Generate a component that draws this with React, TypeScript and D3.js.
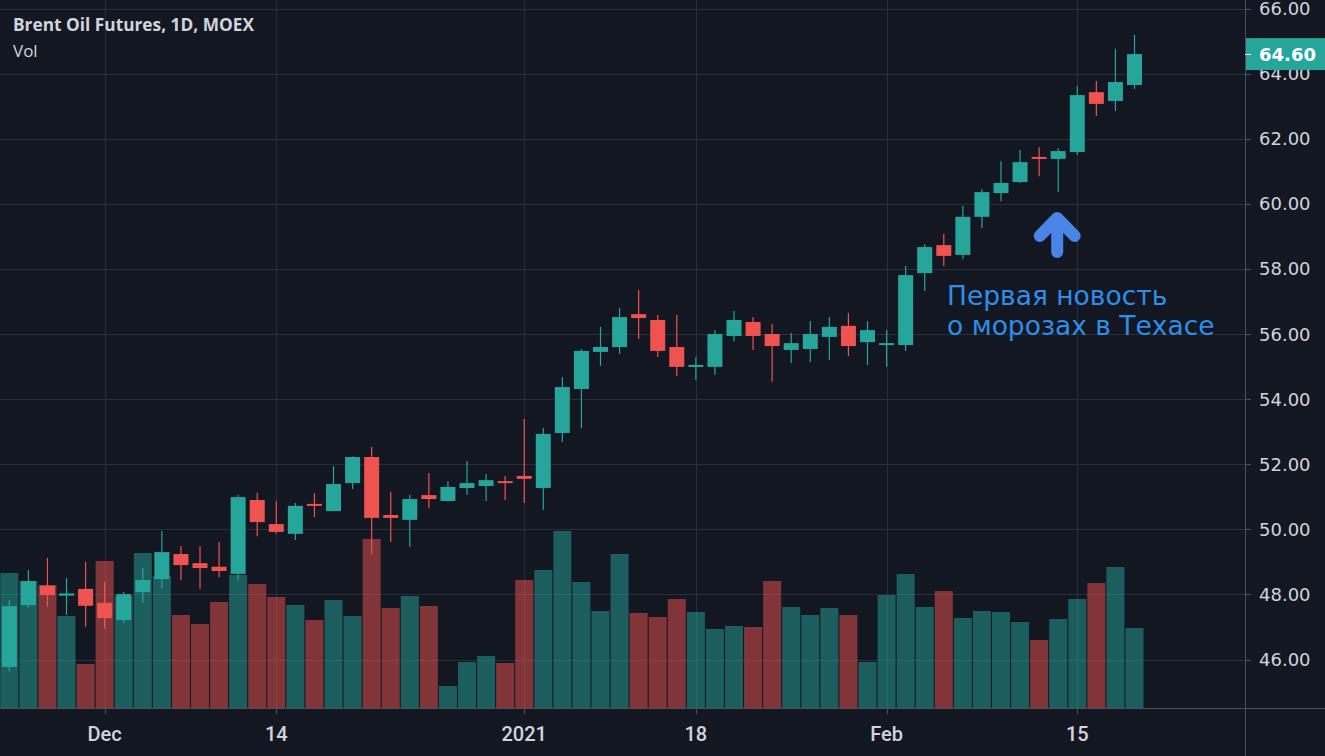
import React from "react";
import * as d3 from "d3";

const dates = [
  "2020-11-24","2020-11-25","2020-11-26","2020-11-27","2020-11-30",
  "2020-12-01","2020-12-02","2020-12-03","2020-12-04","2020-12-07",
  "2020-12-08","2020-12-09","2020-12-10","2020-12-11","2020-12-14",
  "2020-12-15","2020-12-16","2020-12-17","2020-12-18","2020-12-21",
  "2020-12-22","2020-12-23","2020-12-24","2020-12-25","2020-12-28",
  "2020-12-29","2020-12-30","2021-01-04","2021-01-05","2021-01-06",
  "2021-01-08","2021-01-11","2021-01-12","2021-01-13","2021-01-14",
  "2021-01-15","2021-01-18","2021-01-19","2021-01-20","2021-01-21",
  "2021-01-22","2021-01-25","2021-01-26","2021-01-27","2021-01-28",
  "2021-01-29","2021-02-01","2021-02-02","2021-02-03","2021-02-04",
  "2021-02-05","2021-02-08","2021-02-09","2021-02-10","2021-02-11",
  "2021-02-12","2021-02-15","2021-02-16","2021-02-17","2021-02-18",
];

const opens = [
  45.77,47.67,48.27,47.96,48.17,47.74,47.21,48.07,48.47,49.24,
  48.96,48.85,48.63,50.90,50.16,49.86,50.78,50.56,51.42,52.22,
  50.44,50.29,51.05,50.87,51.27,51.33,51.48,51.64,51.27,52.96,
  54.31,55.45,55.60,56.61,56.43,55.60,55.00,54.99,55.94,56.37,
  56.00,55.51,55.54,55.91,56.25,55.75,55.69,55.66,57.87,58.73,
  58.43,59.60,60.33,60.67,61.44,61.38,61.59,63.43,63.16,63.65,
];
const highs = [
  47.83,48.75,49.12,48.50,49.00,48.38,48.07,48.81,49.95,49.49,
  49.49,49.61,51.05,51.12,50.87,50.81,51.12,51.94,52.24,52.53,
  51.15,51.05,51.73,51.48,52.10,51.70,51.64,53.39,53.11,54.68,
  55.54,56.22,56.80,57.35,56.58,56.58,55.29,56.12,56.71,56.52,
  56.31,56.03,56.40,56.52,56.65,56.40,56.12,58.09,58.76,59.07,
  59.93,60.45,61.31,61.65,61.74,61.71,63.62,63.77,64.76,65.19,
];
const lows = [
  45.63,47.59,47.62,47.37,47.01,46.94,47.12,47.74,48.17,48.44,
  48.17,48.53,48.44,49.79,49.86,49.67,50.38,50.55,51.24,49.24,
  49.61,49.46,50.65,50.85,51.05,50.87,50.90,50.81,50.59,52.68,
  53.11,55.02,55.39,55.85,55.29,54.71,54.59,54.74,55.78,55.51,
  54.53,55.11,55.14,55.20,55.32,55.05,54.99,55.48,57.32,58.09,
  58.30,59.26,60.08,60.64,60.85,60.36,61.50,62.70,62.85,63.53,
];
const closes = [
  47.64,48.41,47.98,48.03,47.65,47.27,48.01,48.44,49.30,48.90,
  48.81,48.72,50.99,50.22,49.92,50.72,50.72,51.39,52.22,50.35,
  50.35,50.93,50.93,51.30,51.42,51.51,51.42,51.55,52.93,54.37,
  55.48,55.60,56.52,56.49,55.48,54.99,55.05,56.00,56.43,55.94,
  55.63,55.72,56.00,56.22,55.63,56.12,55.72,57.81,58.67,58.40,
  59.60,60.36,60.64,61.28,61.41,61.62,63.34,63.07,63.74,64.60,
];
// volume, thousands of contracts
const volumes = [
  135,127,123,92,44,147,112,155,132,93,
  84,106,133,124,111,103,88,108,92,169,
  100,112,102,22,46,52,45,128,138,177,
  126,97,154,95,91,109,96,79,82,81,
  127,101,93,100,93,46,113,134,101,117,
  90,97,96,86,68,89,109,125,141,80,
];

const priceTicks = [46, 48, 50, 52, 54, 56, 58, 60, 62, 64, 66];
const timeTickIndex = [5, 14, 27, 36, 46, 56];
const timeTickLabels = ["Dec", "14", "2021", "18", "Feb", "15"];

const title = "Brent Oil Futures, 1D, MOEX";
const volLabel = "Vol";
const lastPrice = 64.6;
const noteLines = ["Первая новость", "о морозах в Техасе"];
const noteIndex = 55;

const W = 1325;
const H = 756;
const AXIS_X = 1245;
const AXIS_Y = 708;

const BG = "#131722";
const GRID = "#2a2e39";
const AXIS = "#4c505b";
const TEXT = "#d1d4dc";
const UP = "#26a69a";
const DOWN = "#ef5350";

export default function App() {
  const x = d3.scaleLinear().domain([0, 59]).range([9.3, 1134.5]);
  const y = d3.scaleLinear().domain([46, 66]).range([659.5, 8.5]);
  const v = d3.scaleLinear().domain([0, 177]).range([AXIS_Y, 531]);

  const bodyW = 15;
  const volW = 18;

  const ax = x(noteIndex) - 1;

  return (
    <svg
      width={W}
      height={H}
      style={{ position: "absolute", left: 0, top: 0, display: "block" }}
    >
      <rect x={0} y={0} width={W} height={H} fill={BG} />
      {/* grid */}
      {priceTicks.map((p) => (
        <line key={"g" + p} x1={0} x2={AXIS_X} y1={Math.round(y(p)) + 0.5} y2={Math.round(y(p)) + 0.5} stroke={GRID} strokeWidth={1} />
      ))}
      {timeTickIndex.map((i) => (
        <line key={"v" + i} x1={Math.round(x(i)) + 0.5} x2={Math.round(x(i)) + 0.5} y1={0} y2={AXIS_Y} stroke={GRID} strokeWidth={1} />
      ))}
      {/* volume */}
      {volumes.map((vol, i) => (
        <rect
          key={"vol" + i}
          x={x(i) - volW / 2}
          y={v(vol)}
          width={volW}
          height={AXIS_Y - v(vol)}
          fill={closes[i] >= opens[i] ? UP : DOWN}
          fillOpacity={0.5}
        />
      ))}
      {/* candles */}
      {opens.map((o, i) => {
        const c = closes[i];
        const col = c >= o ? UP : DOWN;
        const top = y(Math.max(o, c));
        const bot = y(Math.min(o, c));
        const h = Math.max(bot - top, 2);
        const cx = x(i);
        return (
          <g key={"c" + i}>
            <line x1={cx} x2={cx} y1={y(highs[i])} y2={y(lows[i])} stroke={col} strokeWidth={1.2} />
            <rect x={cx - bodyW / 2} y={top} width={bodyW} height={h} fill={col} />
          </g>
        );
      })}
      {/* annotation */}
      <path
        d={`M${ax},252 L${ax},219 M${ax - 17.5},236 L${ax},218 L${ax + 17.5},236`}
        stroke="#4a84e6"
        strokeWidth={12}
        strokeLinecap="round"
        strokeLinejoin="round"
        fill="none"
      />
      <text x={947} y={305} fill="#2e8ee8" fontFamily="DejaVu Sans" fontSize={26.5}>
        {noteLines[0]}
      </text>
      <text x={947} y={335} fill="#2e8ee8" fontFamily="DejaVu Sans" fontSize={26.5}>
        {noteLines[1]}
      </text>
      {/* axes */}
      <line x1={AXIS_X + 0.5} x2={AXIS_X + 0.5} y1={0} y2={H} stroke={AXIS} />
      <line x1={0} x2={W} y1={AXIS_Y + 0.5} y2={AXIS_Y + 0.5} stroke={AXIS} />
      {priceTicks.map((p) => (
        <g key={"pt" + p}>
          <line x1={AXIS_X} x2={AXIS_X + 6} y1={Math.round(y(p)) + 0.5} y2={Math.round(y(p)) + 0.5} stroke={AXIS} />
          <text x={1259} y={y(p) + 6.5} fill={TEXT} fontFamily="DejaVu Sans" fontSize={18}>
            {p.toFixed(2)}
          </text>
        </g>
      ))}
      <rect x={AXIS_X + 1} y={y(lastPrice) - 16} width={W - AXIS_X} height={32} fill={UP} />
      <line x1={AXIS_X} x2={AXIS_X + 6} y1={Math.round(y(lastPrice)) + 0.5} y2={Math.round(y(lastPrice)) + 0.5} stroke="#ffffff" />
      <text x={1259} y={y(lastPrice) + 6.5} fill="#ffffff" fontFamily="DejaVu Sans" fontWeight="bold" fontSize={18}>
        {lastPrice.toFixed(2)}
      </text>
      {timeTickIndex.map((i, k) => (
        <g key={"tt" + i}>
          <line x1={Math.round(x(i)) + 0.5} x2={Math.round(x(i)) + 0.5} y1={AXIS_Y} y2={AXIS_Y + 6} stroke={AXIS} />
          <text x={x(i)} y={741} textAnchor="middle" fill={TEXT} fontFamily="Roboto" fontWeight={500} fontSize={20}>
            {timeTickLabels[k]}
          </text>
        </g>
      ))}
      {/* legend */}
      <text x={13} y={31} fill={TEXT} fontFamily="Open Sans" fontWeight="bold" fontSize={17.3}>
        {title}
      </text>
      <text x={13} y={57} fill={TEXT} fontFamily="Open Sans" fontSize={17}>
        {volLabel}
      </text>
    </svg>
  );
}
